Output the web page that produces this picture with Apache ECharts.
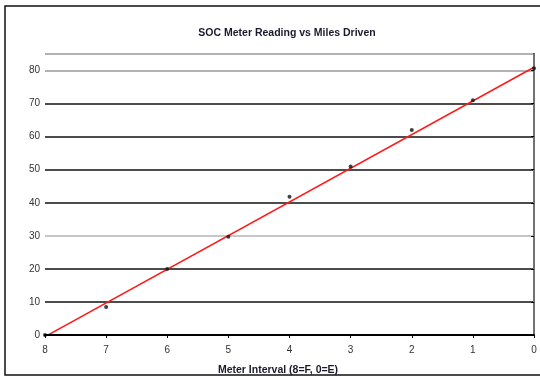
<!DOCTYPE html>
<html><head><meta charset="utf-8">
<script src="https://cdn.jsdelivr.net/npm/echarts@6/dist/echarts.min.js"></script>
<style>html,body{margin:0;padding:0;background:#fff}#c{width:540px;height:377px}</style>
</head><body><div id="c"></div>
<script>
// Meter interval (8 = Full, 0 = Empty)
const meterInterval = [8, 7, 6, 5, 4, 3, 2, 1, 0];
// Miles driven readings
const milesDriven = [0, 8.5, 20, 29.7, 41.8, 51, 62, 71, 80.7];
// Linear trend line end points
const trendX = [8, 0];
const trendY = [-0.5, 81];
const yTicks = [0, 10, 20, 30, 40, 50, 60, 70, 80];

const chart = echarts.init(document.getElementById('c'), null, {renderer: 'canvas'});
const font = 'Liberation Sans, Arial, sans-serif';
chart.setOption({
  animation: false,
  backgroundColor: '#fff',
  title: [
    {text: 'SOC Meter Reading vs Miles Driven', left: 282, top: 23, textAlign: 'center',
     textStyle: {fontFamily: font, fontSize: 10.5, fontWeight: 'bold', color: '#1a1a2e'}},
    {text: 'Meter Interval (8=F, 0=E)', left: 273, top: 360, textAlign: 'center',
     textStyle: {fontFamily: font, fontSize: 10.5, fontWeight: 'bold', color: '#1a1a2e'}}
  ],
  graphic: [{type: 'rect', shape: {x: 5, y: 6, width: 545, height: 369},
    style: {fill: 'none', stroke: '#111', lineWidth: 1.5}, silent: true}],
  grid: {left: 45, right: 6, top: 54, bottom: 42},
  xAxis: [{
    type: 'value', inverse: true, min: 0, max: 8, interval: 1,
    axisLine: {lineStyle: {color: '#000', width: 2}},
    axisTick: {show: true, length: 3, lineStyle: {color: '#000'}},
    axisLabel: {fontFamily: font, fontSize: 10, color: '#333', margin: 10},
    splitLine: {show: false}, z: 5
  }, {
    type: 'value', position: 'top', inverse: true, min: 0, max: 8,
    axisLine: {show: true, lineStyle: {color: '#999', width: 1.5}},
    axisTick: {show: false}, axisLabel: {show: false}, splitLine: {show: false}
  }],
  yAxis: [{
    type: 'value', min: 0, max: 85, interval: 10,
    axisLine: {show: true, lineStyle: {color: '#000', width: 2}},
    axisTick: {show: true, length: 3, lineStyle: {color: '#000'}},
    axisLabel: {fontFamily: font, fontSize: 10, color: '#333', margin: 5,
      showMaxLabel: false, formatter: v => (yTicks.indexOf(v) >= 0 ? String(v) : '')},
    splitLine: {show: true, lineStyle: {width: 1.5,
      color: ['#111', '#111', '#111', '#b5b5b5', '#111', '#111', '#111', '#111', '#999', '#999']}}
  }, {
    type: 'value', position: 'right', min: 0, max: 85,
    axisLine: {show: true, lineStyle: {color: '#999', width: 1.5}},
    axisTick: {show: false}, axisLabel: {show: false}, splitLine: {show: false}
  }],
  series: [{
    type: 'line', data: trendX.map((x, i) => [x, trendY[i]]),
    symbol: 'none', lineStyle: {color: '#ff1a1a', width: 1.5}, z: 3
  }, {
    type: 'scatter', data: meterInterval.map((x, i) => [x, milesDriven[i]]),
    symbol: 'circle', symbolSize: 4, itemStyle: {color: '#111'}, z: 4
  }]
});
</script></body></html>
